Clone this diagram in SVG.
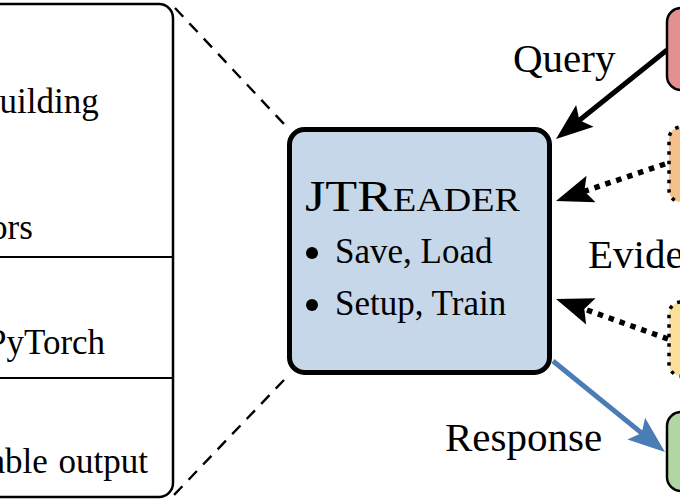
<svg xmlns="http://www.w3.org/2000/svg" width="680" height="500" viewBox="0 0 680 500">
<defs>
<style>
.t{font-family:"Liberation Serif","Times New Roman",serif;fill:#000}
.lbl{font-size:41px}
.body{font-size:35px}
.box{stroke:#000;stroke-width:2.5}
.dot{stroke:#000;stroke-width:3.5;stroke-dasharray:3.5 6;stroke-linecap:butt}
.dash{stroke:#000;stroke-width:2.4;stroke-dasharray:12 9;fill:none}
</style>
<marker id="ah" markerUnits="userSpaceOnUse" viewBox="-40 -16 42 32" markerWidth="42" markerHeight="32" refX="-26" refY="0" orient="auto">
<path d="M0,0 L-37,-14 L-30,0 L-37,14 Z" fill="#000"/>
</marker>
<marker id="ahb" markerUnits="userSpaceOnUse" viewBox="-40 -16 42 32" markerWidth="42" markerHeight="32" refX="-26" refY="0" orient="auto">
<path d="M0,0 L-37,-14 L-30,0 L-37,14 Z" fill="#4a7cb5"/>
</marker>
</defs>
<rect width="680" height="500" fill="#fff"/>

<g id="connectors">
<line class="dash" x1="175" y1="8" x2="284" y2="124"/>
<line class="dash" x1="284" y1="380" x2="173" y2="496"/>
<line x1="667" y1="50" x2="576.3" y2="122.7" stroke="#000" stroke-width="5" marker-end="url(#ah)"/>
<line x1="665" y1="164" x2="580.6" y2="192.6" stroke="#000" stroke-width="5.5" stroke-dasharray="5.5 6" marker-end="url(#ah)"/>
<line x1="668" y1="339" x2="580.5" y2="307.7" stroke="#000" stroke-width="5.5" stroke-dasharray="5.5 6" marker-end="url(#ah)"/>
<line x1="553" y1="361" x2="644.8" y2="435.6" stroke="#4a7cb5" stroke-width="5" marker-end="url(#ahb)"/>
</g>

<g id="left-panel">
<rect class="box" x="-20" y="4" width="193" height="493" rx="14" fill="#fff"/>
<line x1="-20" y1="257" x2="173" y2="257" stroke="#000" stroke-width="2"/>
<line x1="-20" y1="378" x2="173" y2="378" stroke="#000" stroke-width="2"/>
<text class="t body" x="-18" y="113">building</text>
<text class="t body" x="-10" y="239">ors</text>
<text class="t body" x="-13" y="354">PyTorch</text>
<text class="t body" y="473"><tspan x="-10.5">able</tspan><tspan x="58.5">output</tspan></text>
</g>

<g id="jtreader">
<rect x="289.5" y="129.5" width="260" height="243" rx="15" fill="#c5d7e8" stroke="#000" stroke-width="5"/>
<text class="t" x="305" y="211" font-size="44" textLength="87" lengthAdjust="spacingAndGlyphs">JTR</text>
<text class="t" x="393" y="211" font-size="33" textLength="127" lengthAdjust="spacingAndGlyphs">EADER</text>
<circle cx="312" cy="253" r="6"/>
<text class="t body" x="335" y="263">Save,  Load</text>
<circle cx="312" cy="305" r="6"/>
<text class="t body" x="335" y="315">Setup,  Train</text>
</g>

<g id="query">
<rect class="box" x="667" y="8" width="100" height="82" rx="14" fill="#e39090"/>
<text class="t lbl" x="513" y="72">Query</text>
</g>

<g id="evidence-1">
<rect class="dot" x="669" y="127" width="100" height="75" rx="12" fill="#f6c08a"/>
</g>

<g id="evidence-2">
<rect class="dot" x="669" y="302" width="100" height="74" rx="12" fill="#fbdf9b"/>
</g>

<text class="t lbl" x="588" y="268">Evidence</text>

<g id="response">
<rect class="box" x="667" y="412" width="100" height="79" rx="14" fill="#b2d6a3"/>
<text class="t lbl" x="445" y="451">Response</text>
</g>
</svg>
